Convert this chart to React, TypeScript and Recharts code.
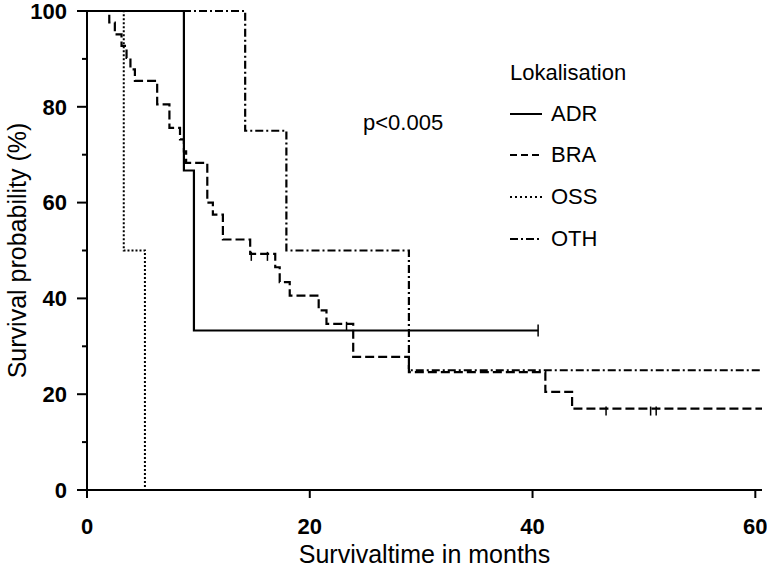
import { ComposedChart, Line, Scatter, XAxis, YAxis, Legend } from 'recharts'

// Kaplan-Meier steps (months / survival %)
const adrTime = [0, 8.7, 9.6, 40.5]
const adrSurv = [100, 66.7, 33.3, 33.3]
const adrCensored = [40.5]

const braTime = [0, 2.0, 2.5, 3.1, 3.55, 3.9, 4.3, 6.3, 7.4, 8.35, 8.7, 8.9, 10.8, 11.3, 12.2, 14.65, 16.9, 17.3, 18.2, 20.8, 21.5, 23.9, 28.9, 41.15, 43.55, 60.6]
const braSurv = [100, 97.6, 95.1, 92.7, 90.2, 87.8, 85.4, 80.5, 75.6, 73.2, 70.7, 68.3, 60.0, 57.5, 52.3, 49.3, 46.5, 43.4, 40.6, 37.5, 34.7, 27.8, 24.6, 20.5, 17.0, 17.0]
const braCensored = [14.75, 16.2, 23.3, 46.6, 50.6, 51.1]

const ossTime = [0, 3.3, 5.2]
const ossSurv = [100, 50, 0]

const othTime = [0, 14.2, 17.9, 28.9, 60.6]
const othSurv = [100, 75, 50, 25, 25]

const xTicks = [0, 20, 40, 60]
const yTicks = [0, 10, 20, 30, 40, 50, 60, 70, 80, 90, 100]

const groups = [
  { name: 'ADR', dash: undefined },
  { name: 'BRA', dash: '7 4' },
  { name: 'OSS', dash: '2 3' },
  { name: 'OTH', dash: '8 3 2 3' },
]

const FONT = '"Liberation Sans", Arial, sans-serif'

const toRows = (t: number[], s: number[]) => t.map((v, i) => ({ t: v, s: s[i] }))
// survival value of a step curve at time x (for placing censor marks on the curve)
const stepAt = (t: number[], s: number[], x: number) => {
  let v = s[0]
  for (let i = 0; i < t.length; i++) if (t[i] <= x) v = s[i]
  return v
}

const adr = toRows(adrTime, adrSurv)
const bra = toRows(braTime, braSurv)
const oss = toRows(ossTime, ossSurv)
const oth = toRows(othTime, othSurv)
const adrCens = adrCensored.map(x => ({ t: x, s: stepAt(adrTime, adrSurv, x) }))
const braCens = braCensored.map(x => ({ t: x, s: stepAt(braTime, braSurv, x) }))

function YTick(props: any) {
  const { x, y, payload } = props
  const axisX = x + 20
  const major = payload.value % 20 === 0
  return (
    <g>
      <line x1={axisX - (major ? 10 : 5)} x2={axisX} y1={y} y2={y} stroke="#000" strokeWidth={2} />
      {major && (
        <text x={x} y={y} dy="0.355em" textAnchor="end" fontFamily={FONT} fontSize={22} fontWeight="bold" fill="#000">
          {payload.value}
        </text>
      )}
    </g>
  )
}

function KMLegend() {
  return (
    <div style={{ fontFamily: FONT, fontSize: 22, color: '#000', lineHeight: 1 }}>
      <div style={{ height: 40, display: 'flex', alignItems: 'center' }}>Lokalisation</div>
      {groups.map(g => (
        <div key={g.name} style={{ height: 41.6, display: 'flex', alignItems: 'center' }}>
          <svg width={32} height={10} style={{ marginRight: 9 }}>
            <line x1={0} x2={32} y1={5} y2={5} stroke="#000" strokeWidth={2} strokeDasharray={g.dash} />
          </svg>
          <span>{g.name}</span>
        </div>
      ))}
    </div>
  )
}

const braTick = (p: any) => <line x1={p.cx} x2={p.cx} y1={p.cy - 2} y2={p.cy + 7} stroke="#000" strokeWidth={1.5} />
const adrTick = (p: any) => <line x1={p.cx} x2={p.cx} y1={p.cy - 6} y2={p.cy + 6} stroke="#000" strokeWidth={1.5} />

export default function App() {
  return (
    <div style={{ position: 'relative', width: 767, height: 567, background: '#fff' }}>
      <style>{'body{margin:0}'}</style>
      <ComposedChart width={767} height={567} margin={{ top: 11, right: 5, bottom: 0, left: 0 }}>
        <XAxis
          type="number"
          dataKey="t"
          domain={[0, 60.6]}
          ticks={xTicks}
          interval={0}
          height={77}
          tickSize={8}
          tickMargin={20}
          axisLine={{ stroke: '#000', strokeWidth: 2 }}
          tickLine={{ stroke: '#000', strokeWidth: 2 }}
          tick={{ fontFamily: FONT, fontSize: 22, fontWeight: 'bold', fill: '#000' }}
          label={{ value: 'Survivaltime in months', position: 'insideBottom', offset: 4, style: { fontFamily: FONT, fontSize: 25, fill: '#000' } }}
        />
        <YAxis
          type="number"
          domain={[0, 100]}
          ticks={yTicks}
          interval={0}
          width={87}
          tickSize={10}
          tickMargin={10}
          axisLine={{ stroke: '#000', strokeWidth: 2 }}
          tickLine={false}
          tick={YTick}
          label={{ value: 'Survival probability (%)', angle: -90, position: 'insideLeft', offset: 17, style: { textAnchor: 'middle', fontFamily: FONT, fontSize: 25, fill: '#000' } }}
        />
        <Legend layout="vertical" align="center" verticalAlign="middle" wrapperStyle={{ left: 510, top: 53 }} content={KMLegend} />
        <Line data={oss} dataKey="s" type="stepAfter" stroke="#000" strokeWidth={2} strokeDasharray="2 2" dot={false} isAnimationActive={false} />
        <Line data={oth} dataKey="s" type="stepAfter" stroke="#000" strokeWidth={2.2} strokeDasharray="8 3 2 3" dot={false} isAnimationActive={false} />
        <Line data={bra} dataKey="s" type="stepAfter" stroke="#000" strokeWidth={2.2} strokeDasharray="9 4" dot={false} isAnimationActive={false} />
        <Line data={adr} dataKey="s" type="stepAfter" stroke="#000" strokeWidth={2.2} dot={false} isAnimationActive={false} />
        <Scatter data={braCens} dataKey="s" shape={braTick} isAnimationActive={false} />
        <Scatter data={adrCens} dataKey="s" shape={adrTick} isAnimationActive={false} />
      </ComposedChart>
      <div style={{ position: 'absolute', left: 363, top: 111, fontFamily: FONT, fontSize: 22, lineHeight: '24px', color: '#000' }}>
        p&lt;0.005
      </div>
    </div>
  )
}
